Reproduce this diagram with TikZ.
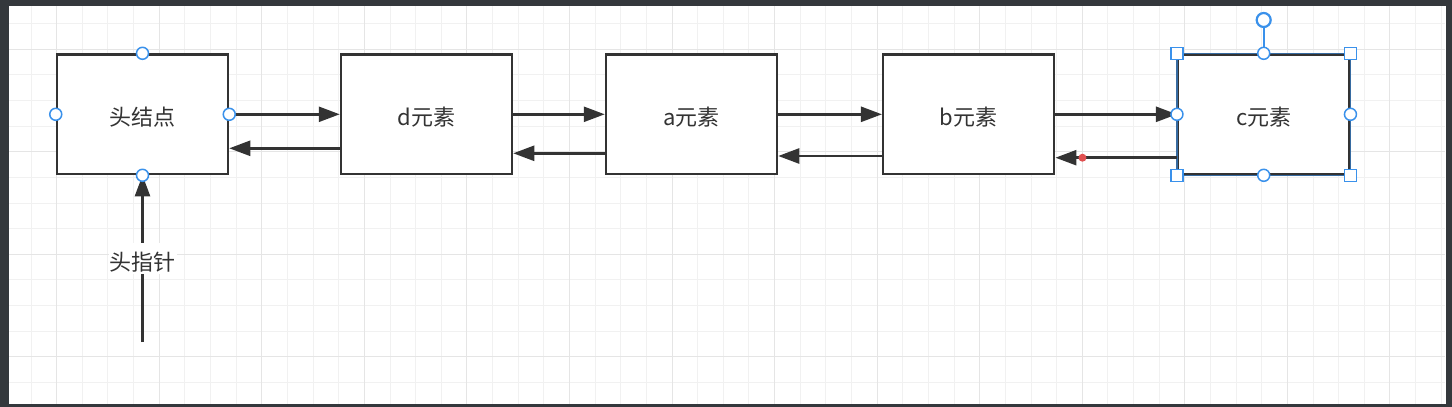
\documentclass[tikz,border=0pt]{standalone}
\usepackage{fontspec}
\setmainfont{Noto Sans CJK SC}
\usetikzlibrary{arrows.meta}
\definecolor{frame}{RGB}{52,56,60}
\definecolor{ink}{RGB}{51,51,51}
\definecolor{sel}{RGB}{58,145,235}
\definecolor{minorgrid}{RGB}{241,241,241}
\definecolor{majorgrid}{RGB}{229,229,229}
\definecolor{dot}{RGB}{224,80,80}
\tikzset{
	elem/.style={draw=ink, line width=2.5pt, fill=white, minimum width=171pt, minimum height=119.5pt, inner sep=0pt, text=ink, text height=26pt, text depth=3pt, font=\fontsize{22}{26}\selectfont},
	link/.style={draw=ink, line width=2.5pt, -{Triangle[length=21pt,width=15pt]}},
	pin/.style={circle, draw=sel, fill=white, line width=1.5pt, minimum size=12pt, inner sep=0pt},
	grip/.style={draw=sel, fill=white, line width=1.5pt, minimum size=12pt, inner sep=0pt}
}
\begin{document}
\begin{tikzpicture}[x=1pt, y=-1pt]
	\useasboundingbox (0,0) rectangle (1452,407);
	\fill[frame] (0,0) rectangle (1452,407);
	\fill[white] (8.7,5.5) rectangle (1445.7,404.3);
	\begin{scope}
		\clip (8.7,5.5) rectangle (1445.7,404.3);
		\foreach \i in {0,...,56}
			\draw[minorgrid, line width=1pt] ({5.4+25.64*\i},6) -- ++(0,398);
		\foreach \j in {0,...,16}
			\draw[minorgrid, line width=1pt] (9,{-1.9+25.62*\j}) -- ++(1436,0);
		\foreach \i in {0,...,14}
			\draw[majorgrid, line width=1pt] ({56.68+102.56*\i},6) -- ++(0,398);
		\foreach \j in {0,...,3}
			\draw[majorgrid, line width=1pt] (9,{49.34+102.48*\j}) -- ++(1436,0);
	\end{scope}

	\node[elem] (hn) at (142.5,114.3) {头结点};
	\node[elem] (d) at (426.5,114.3) {d元素};
	\node[elem] (a) at (691.5,114.3) {a元素};
	\node[elem] (b) at (968.7,114.3) {b元素};
	\node[elem] (c) at (1263.7,114.3) {c元素};
	\draw[sel!60!ink, line width=1.2pt] (c.north west) rectangle (c.south east);

	\foreach \s/\t in {hn/d, d/a, a/b, b/c}
		\draw[link] (\s) -- (\t);
	\foreach \s/\t/\dy in {d/hn/34, a/d/39, b/a/41.7, c/b/43.4}
		\draw[link] ([yshift=-\dy pt]\s.west) -- ([yshift=-\dy pt]\t.east);
	\node[circle, fill=dot, minimum size=8pt, inner sep=0pt] (mark) at ([xshift=27pt, yshift=-43.4pt]b.east) {};

	\coordinate (hp) at (142.5,342);
	\draw[link] (hp) -- node[pos=0.5, fill=white, inner sep=1pt, text=ink, text height=26pt, text depth=3pt, font=\fontsize{22}{26}\selectfont] (hplabel) {头指针} (hn.south);

	\foreach \p in {north, south, east, west}
		\node[pin] (hn-\p) at (hn.\p) {};

	\node[pin, line width=2.2pt, minimum size=14pt] (rot) at (1263.7,20) {};
	\draw[sel, line width=2pt] (rot) -- (c.north);
	\foreach \p in {north west, north east, south west, south east}
		\node[grip] (c-\p) at (c.\p) {};
	\foreach \p in {north, south, east, west}
		\node[pin] (c-\p) at (c.\p) {};
\end{tikzpicture}
\end{document}
